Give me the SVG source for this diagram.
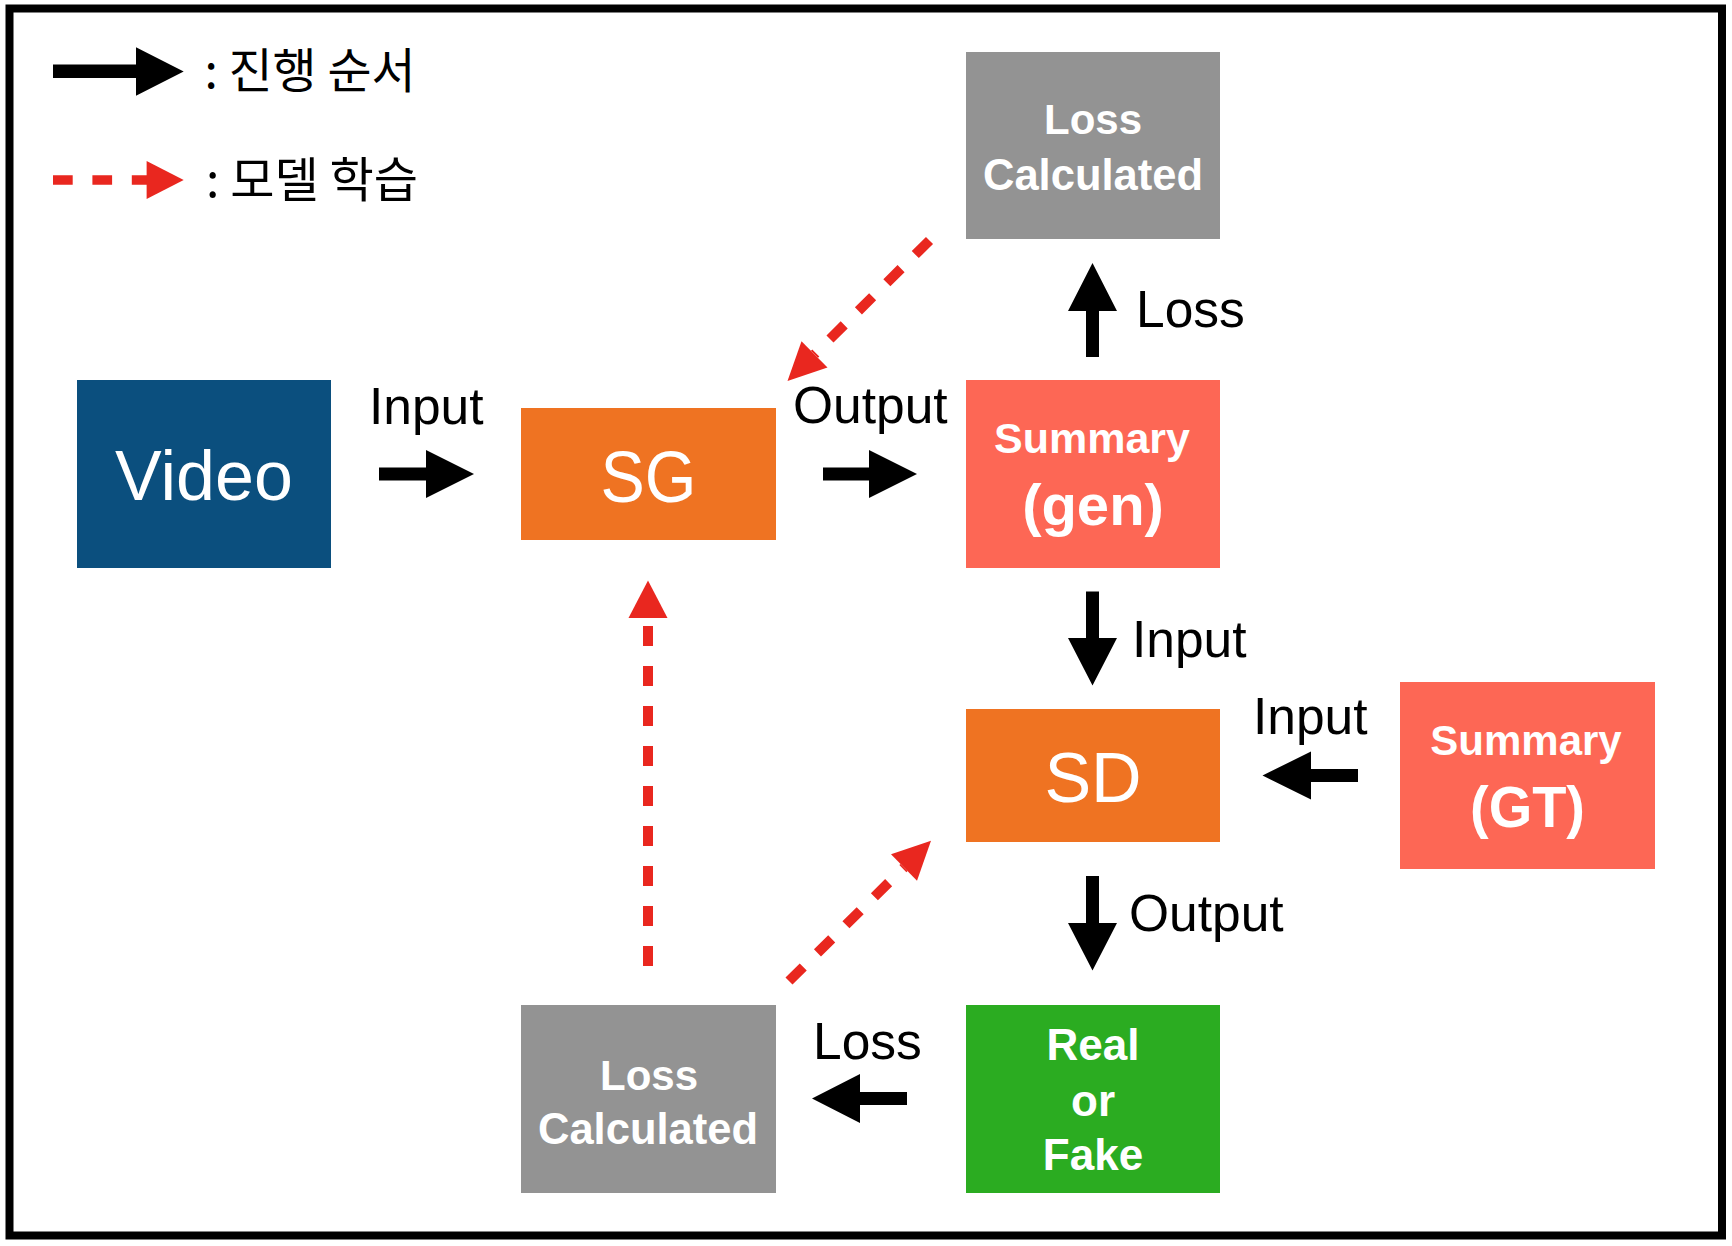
<svg xmlns="http://www.w3.org/2000/svg" width="1732" height="1246" viewBox="0 0 1732 1246">
<style>
.box-text{font-family:"Liberation Sans",Arial,sans-serif;fill:#ffffff;text-anchor:middle}
.b{font-weight:bold}
.lbl{font-family:"Liberation Sans",Arial,sans-serif;font-size:51.5px;fill:#000000}
.leg{font-family:"Noto Sans CJK KR","Noto Sans",sans-serif;font-size:48px;fill:#000000}
.arrow{fill:#000000}
.dash{fill:none;stroke:#E9271F;stroke-width:10;stroke-dasharray:20 20}
.head{fill:#E9271F}
</style>
<rect x="0" y="0" width="1732" height="1246" fill="#ffffff"/>
<rect x="9.5" y="8.5" width="1712.5" height="1227" fill="none" stroke="#000000" stroke-width="8"/>

<g id="legend">
  <polygon class="arrow" points="53,64.5 136,64.5 136,47.3 183.7,71.5 136,95.7 136,78 53,78"/>
  <line x1="53" y1="180" x2="148" y2="180" stroke="#E9271F" stroke-width="9.5" stroke-dasharray="19.7 19.7"/>
  <polygon class="head" points="146.6,161 183.7,180 146.6,199"/>
  <text class="leg" x="204.5" y="88" textLength="211" lengthAdjust="spacingAndGlyphs">: 진행 순서</text>
  <text class="leg" x="206" y="197" textLength="212" lengthAdjust="spacingAndGlyphs">: 모델 학습</text>
</g>

<g id="node-video">
  <rect x="77" y="380" width="254" height="188" fill="#0B4F7E"/>
  <text class="box-text" x="204" y="500" font-size="70">Video</text>
</g>
<g id="node-sg">
  <rect x="521" y="408" width="255" height="132" fill="#EF7322"/>
  <text class="box-text" x="648.5" y="502" font-size="72" textLength="96" lengthAdjust="spacingAndGlyphs">SG</text>
</g>
<g id="node-loss-top">
  <rect x="966" y="52" width="254" height="187" fill="#939393"/>
  <text class="box-text b" x="1093" y="134" font-size="42">Loss</text>
  <text class="box-text b" x="1093" y="189.5" font-size="43.5">Calculated</text>
</g>
<g id="node-summary-gen">
  <rect x="966" y="380" width="254" height="188" fill="#FD6755"/>
  <text class="box-text b" x="1092" y="453" font-size="43">Summary</text>
  <text class="box-text b" x="1093" y="525" font-size="58">(gen)</text>
</g>
<g id="node-sd">
  <rect x="966" y="709" width="254" height="133" fill="#EF7322"/>
  <text class="box-text" x="1093" y="801.5" font-size="70">SD</text>
</g>
<g id="node-summary-gt">
  <rect x="1400" y="682" width="255" height="187" fill="#FD6755"/>
  <text class="box-text b" x="1526" y="755" font-size="42">Summary</text>
  <text class="box-text b" x="1527.5" y="827" font-size="58" textLength="115" lengthAdjust="spacingAndGlyphs">(GT)</text>
</g>
<g id="node-real-fake">
  <rect x="966" y="1005" width="254" height="188" fill="#2BAC21"/>
  <text class="box-text b" x="1093" y="1060" font-size="44">Real</text>
  <text class="box-text b" x="1093" y="1115.5" font-size="44">or</text>
  <text class="box-text b" x="1093" y="1169.5" font-size="44">Fake</text>
</g>
<g id="node-loss-bottom">
  <rect x="521" y="1005" width="255" height="188" fill="#939393"/>
  <text class="box-text b" x="649" y="1089.5" font-size="42">Loss</text>
  <text class="box-text b" x="648" y="1143.5" font-size="43.5">Calculated</text>
</g>

<g id="connectors">
  <polygon class="arrow" points="379,467.5 426,467.5 426,450 474,474 426,498 426,480.5 379,480.5"/>
  <polygon class="arrow" points="823,467.5 869,467.5 869,450 917,474 869,498 869,480.5 823,480.5"/>
  <polygon class="arrow" points="1086,357 1086,311 1068,311 1092.5,263 1117,311 1099,311 1099,357"/>
  <polygon class="arrow" points="1086,591.5 1099,591.5 1099,638 1117,638 1092.5,685.5 1068,638 1086,638"/>
  <polygon class="arrow" points="1358,769 1311,769 1311,751.5 1262.5,775.5 1311,799.5 1311,782 1358,782"/>
  <polygon class="arrow" points="1086,876 1099,876 1099,923 1117,923 1092.5,970.5 1068,923 1086,923"/>
  <polygon class="arrow" points="907,1092 860,1092 860,1074 812,1098.5 860,1123 860,1105 907,1105"/>

  <line class="dash" x1="929.5" y1="240.5" x2="814.5" y2="354.3"/>
  <polygon class="head" points="787.5,381 801.5,341.2 827.5,367.5"/>
  <line class="dash" x1="648" y1="966" x2="648" y2="618"/>
  <polygon class="head" points="648,580.5 628.5,618 667.5,618"/>
  <line class="dash" x1="789" y1="981" x2="904" y2="867.5"/>
  <polygon class="head" points="931,840.8 891,854.3 917,880.7"/>

  <text class="lbl" x="369" y="424">Input</text>
  <text class="lbl" x="793" y="423">Output</text>
  <text class="lbl" x="1136" y="327">Loss</text>
  <text class="lbl" x="1132" y="657">Input</text>
  <text class="lbl" x="1253" y="734">Input</text>
  <text class="lbl" x="1129" y="931">Output</text>
  <text class="lbl" x="813" y="1059">Loss</text>
</g>
</svg>
